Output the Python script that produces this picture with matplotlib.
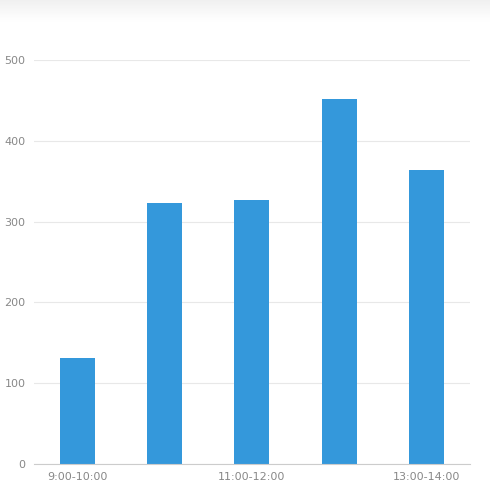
import numpy as np
import matplotlib
matplotlib.use("Agg")
import matplotlib.pyplot as plt

categories = ["9:00-10:00", "10:00-11:00", "11:00-12:00", "12:00-13:00", "13:00-14:00"]
values = [131, 323, 327, 452, 364]

fig = plt.figure(figsize=(4.9, 5), dpi=100)

# soft shadow band along the top edge
sh = fig.add_axes([0, 0.955, 1, 0.045])
grad = np.linspace(1, 0, 50).reshape(-1, 1)
sh.imshow(grad, aspect="auto", cmap="Greys", vmin=0, vmax=8, extent=[0, 1, 0, 1])
sh.axis("off")

ax = fig.add_axes([0.069, 0.072, 0.89, 0.808])
x = np.arange(len(categories))
ax.bar(x, values, width=0.4, color="#3498db")
ax.set_xlim(-0.5, len(categories) - 0.5)
ax.set_ylim(0, 500)
ax.set_yticks(range(0, 501, 100))
ax.set_xticks(x[::2])
ax.set_xticklabels(categories[::2])
ax.yaxis.grid(True, color="#e8e8e8", linewidth=0.8)
ax.set_axisbelow(True)
for s in ["top", "right", "left"]:
    ax.spines[s].set_visible(False)
ax.spines["bottom"].set_color("#cccccc")
ax.tick_params(axis="both", length=0, labelsize=8, colors="#888888", pad=6)

fig.savefig("out.png", dpi=100)
